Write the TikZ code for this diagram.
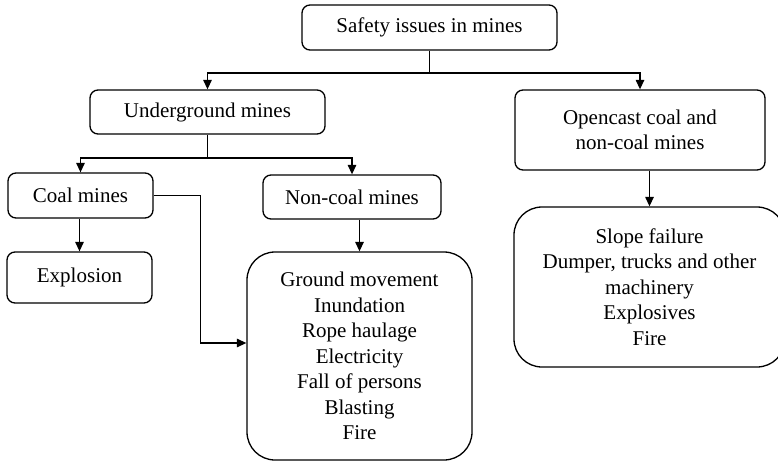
\documentclass[tikz,border=0pt]{standalone}
\usepackage{fontspec}
\setmainfont{Liberation Serif}
\usetikzlibrary{arrows.meta}
\begin{document}
\begin{tikzpicture}[x=1pt,y=-1pt,
  every node/.style={font=\fontsize{21}{25.5}\selectfont},
  box/.style={draw, line width=1.3pt, rounded corners=8pt, align=center, inner sep=0pt},
  bigbox/.style={box, rounded corners=28pt},
  link/.style={line width=1.3pt, -{Triangle[length=9.5pt,width=8.5pt]}},
  plain/.style={line width=1.3pt}]
\useasboundingbox (0,0) rectangle (778,462);

% top level
\node[box, minimum width=255pt, minimum height=45pt] (safety) at (429.5,27.5) {Safety issues in mines};

% second level
\node[box, minimum width=235pt, minimum height=44pt] (under) at (207.5,112) {Underground mines};
\node[box, minimum width=250pt, minimum height=80pt] (open) at (640,130) {Opencast coal and\\non-coal mines};

% underground branches
\node[box, minimum width=145pt, minimum height=45pt] (coal) at (80.5,195.5) {Coal mines};
\node[box, minimum width=178pt, minimum height=44pt] (noncoal) at (352,197) {Non-coal mines};

% hazards
\node[box, minimum width=145pt, minimum height=51pt] (explosion) at (79.5,277.5) {Explosion};
\node[bigbox, minimum width=225pt, minimum height=208pt] (ground) at (359.5,356)
  {Ground movement\\Inundation\\Rope haulage\\Electricity\\Fall of persons\\Blasting\\Fire};
\node[bigbox, minimum width=271pt, minimum height=160pt] (slope) at (649.5,287)
  {Slope failure\\Dumper, trucks and other\\machinery\\Explosives\\Fire};

% connectors
\coordinate (j1) at (429.5,73);
\draw[plain] (safety.south) -- (j1);
\draw[link] (j1) -| (under.north);
\draw[link] (j1) -| (open.north);

\coordinate (j2) at (207.5,158);
\draw[plain] (under.south) -- (j2);
\draw[link] (j2) -| (coal.north);
\draw[link] (j2) -| (noncoal.north);

\draw[link] (coal.south -| explosion.north) -- (explosion.north);
\draw[link] (coal.east) -- ++(47,0) |- ([yshift=13pt]ground.west);
\draw[link] (noncoal.south -| ground.north) -- (ground.north);
\draw[link] (open.south -| slope.north) -- (slope.north);
\end{tikzpicture}
\end{document}
